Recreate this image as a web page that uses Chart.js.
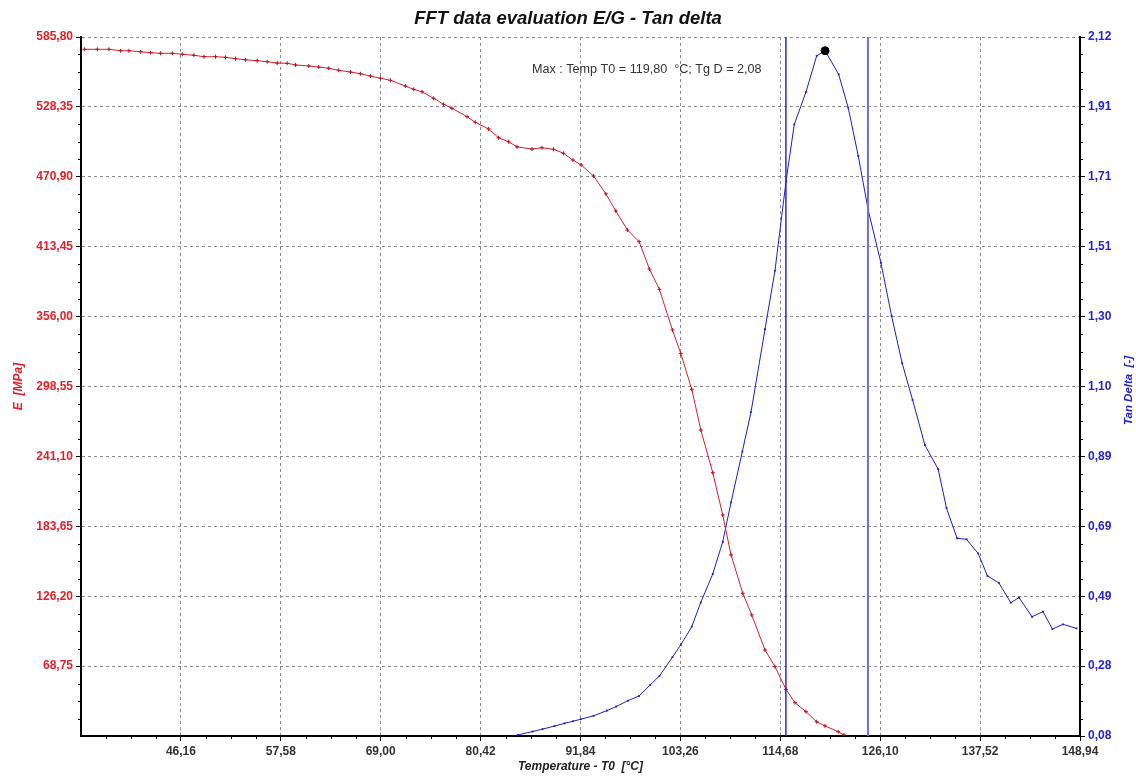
<!DOCTYPE html>
<html>

<head>
    <title>FFT data evaluation E/G - Tan delta</title>
    <script src="https://cdn.jsdelivr.net/npm/chart.js"></script>
    <style>
        body { margin: 0; background: #fff; }
        #wrap { width: 1136px; height: 776px; position: relative; }
    </style>
</head>

<body>
    <div id="wrap"><canvas id="myChart"></canvas></div>

    <script>
        // E modulus curve (left axis)
        const tempE = [35.12, 36.61, 37.94, 39.27, 40.22, 41.56, 42.70, 43.84, 45.18, 46.32,
            47.64, 48.79, 50.12, 51.26, 52.41, 53.55, 54.88, 56.03, 57.17, 58.31,
            59.26, 60.78, 61.92, 63.06, 64.20, 65.54, 66.68, 67.82, 68.97, 70.11,
            71.82, 72.77, 73.73, 75.05, 76.19, 77.15, 78.87, 79.81, 81.33, 82.47,
            83.62, 84.58, 86.29, 87.43, 88.76, 89.90, 90.97, 91.92, 93.33, 94.74,
            95.88, 97.21, 98.54, 99.72, 100.86, 102.35, 103.30, 104.56, 105.59, 106.96,
            108.10, 109.05, 110.39, 111.41, 112.93, 114.07, 115.33, 116.36, 117.61, 118.84,
            119.78, 121.30, 121.95];
        const eModulus = [575.7, 575.7, 575.7, 574.5, 574.5, 573.7, 572.9, 572.4, 572.4, 571.6,
            570.8, 569.6, 569.6, 569.1, 568.0, 567.1, 566.3, 565.5, 564.4, 564.2,
            562.8, 562.0, 561.1, 560.1, 558.4, 557.0, 555.6, 553.7, 551.9, 550.2,
            545.5, 542.8, 540.8, 535.4, 530.5, 527.2, 520.3, 515.7, 510.2, 503.0,
            499.7, 495.5, 493.7, 494.8, 493.5, 490.2, 484.7, 480.6, 471.6, 456.9,
            442.8, 427.1, 417.6, 395.1, 378.4, 345.0, 325.8, 296.2, 262.8, 227.7,
            193.0, 160.1, 128.6, 110.8, 82.0, 68.3, 49.7, 38.7, 31.3, 23.0,
            19.6, 14.8, 12.2];

        // Tan delta curve (right axis)
        const tempTan = [84.65, 86.36, 87.50, 88.87, 90.01, 90.97, 91.88, 93.33, 94.86, 95.92,
            97.25, 98.54, 99.80, 100.86, 102.35, 103.30, 104.56, 105.59, 106.96, 108.10,
            109.05, 110.34, 111.33, 112.93, 114.07, 115.33, 116.28, 117.61, 118.84, 119.80,
            121.35, 122.44, 123.59, 124.73, 126.18, 127.40, 128.61, 129.80, 131.21, 132.72,
            133.68, 134.89, 135.97, 137.29, 138.37, 139.66, 141.03, 141.97, 143.46, 144.71,
            145.79, 147.00, 148.53];
        const tanDelta = [0.083, 0.093, 0.100, 0.109, 0.117, 0.123, 0.129, 0.139, 0.154, 0.166,
            0.183, 0.197, 0.229, 0.255, 0.310, 0.346, 0.399, 0.470, 0.553, 0.647,
            0.762, 0.910, 1.025, 1.267, 1.438, 1.698, 1.865, 1.959, 2.065, 2.08,
            2.011, 1.914, 1.773, 1.615, 1.461, 1.306, 1.168, 1.061, 0.929, 0.859,
            0.745, 0.657, 0.654, 0.613, 0.547, 0.527, 0.469, 0.484, 0.428, 0.443,
            0.392, 0.406, 0.394];

        // maximum marker and the two cursor lines
        const maxPoint = [119.80, 2.08];
        const cursorTemps = [115.32, 124.70];
        const maxText = 'Max : Temp T0 = 119,80  \u00B0C; Tg D = 2,08';

        // axes
        const xRange = [34.74, 148.94];
        const xTicks = [46.16, 57.58, 69.00, 80.42, 91.84, 103.26, 114.68, 126.10, 137.52, 148.94];
        const eRange = [11.30, 585.80];
        const eTicks = [68.75, 126.20, 183.65, 241.10, 298.55, 356.00, 413.45, 470.90, 528.35, 585.80];
        const tanRange = [0.08, 2.12];
        const tanTicks = [0.08, 0.284, 0.488, 0.692, 0.896, 1.10, 1.304, 1.508, 1.712, 1.916, 2.12];
        const tanTickLabels = ['0,08', '0,28', '0,49', '0,69', '0,89', '1,10', '1,30', '1,51', '1,71', '1,91', '2,12'];

        const RED = '#e41e26';
        const BLUE = '#2424d4';
        const GRID = '#8a8a8a';
        const FONT = 'Arial, "Liberation Sans", sans-serif';

        Chart.defaults.font.family = FONT;

        function toPoints(xs, ys) {
            var pts = [];
            for (let i = 0; i < xs.length; i++) {
                pts.push({ x: xs[i], y: ys[i] });
            }
            return pts;
        }

        function comma(v) {
            return Number(v).toFixed(2).replace('.', ',');
        }

        // small ticks between the labelled ones + texts that Chart.js can't place
        const extras = {
            id: 'extras',
            afterDraw: function (chart) {
                const ctx = chart.ctx;
                const area = chart.chartArea;
                const sx = chart.scales.x, sy = chart.scales.y, sy2 = chart.scales.y2;
                ctx.save();
                ctx.strokeStyle = '#000';
                ctx.lineWidth = 1;
                ctx.beginPath();
                var step = (xRange[1] - xRange[0]) / 40;
                for (let i = 1; i < 40; i++) {
                    if (i % 4 === 0) continue;
                    const px = Math.round(sx.getPixelForValue(xRange[0] + i * step)) + 0.5;
                    ctx.moveTo(px, area.bottom);
                    ctx.lineTo(px, area.bottom + 3);
                }
                step = (eRange[1] - eRange[0]) / 40;
                for (let i = 1; i < 40; i++) {
                    if (i % 4 === 0) continue;
                    const py = Math.round(sy.getPixelForValue(eRange[0] + i * step)) + 0.5;
                    ctx.moveTo(area.left - 3, py);
                    ctx.lineTo(area.left, py);
                }
                step = (tanRange[1] - tanRange[0]) / 40;
                for (let i = 1; i < 40; i++) {
                    if (i % 4 === 0) continue;
                    const py = Math.round(sy2.getPixelForValue(tanRange[0] + i * step)) + 0.5;
                    ctx.moveTo(area.right, py);
                    ctx.lineTo(area.right + 3, py);
                }
                ctx.stroke();

                // right axis title reads bottom to top like the left one
                ctx.save();
                ctx.translate(1129, (area.top + area.bottom) / 2 + 4);
                ctx.rotate(-Math.PI / 2);
                ctx.fillStyle = BLUE;
                ctx.font = 'italic bold 11.5px ' + FONT;
                ctx.textAlign = 'center';
                ctx.textBaseline = 'middle';
                ctx.fillText('Tan Delta  [-]', 0, 0);
                ctx.restore();

                // max annotation
                ctx.fillStyle = '#333';
                ctx.font = '12.6px ' + FONT;
                ctx.textAlign = 'left';
                ctx.textBaseline = 'middle';
                ctx.fillText(maxText, area.left + 451, area.top + 33);
                ctx.restore();
            }
        };

        const config = {
            type: 'line',
            data: {
                datasets: [
                    {
                        label: 'Max',
                        data: [{ x: maxPoint[0], y: maxPoint[1] }],
                        yAxisID: 'y2',
                        showLine: false,
                        pointRadius: 4,
                        pointBackgroundColor: '#000',
                        pointBorderColor: '#000',
                        order: 0
                    },
                    {
                        label: 'Cursor 1',
                        data: [{ x: cursorTemps[0], y: tanRange[0] }, { x: cursorTemps[0], y: tanRange[1] }],
                        yAxisID: 'y2',
                        borderColor: '#2a2ad0',
                        borderWidth: 1.5,
                        pointRadius: 0,
                        order: 1
                    },
                    {
                        label: 'Cursor 2',
                        data: [{ x: cursorTemps[1], y: tanRange[0] }, { x: cursorTemps[1], y: tanRange[1] }],
                        yAxisID: 'y2',
                        borderColor: '#6e6ed8',
                        borderWidth: 2,
                        pointRadius: 0,
                        order: 2
                    },
                    {
                        label: 'E',
                        data: toPoints(tempE, eModulus),
                        yAxisID: 'y',
                        borderColor: '#d4202c',
                        borderWidth: 1,
                        pointStyle: 'cross',
                        pointRadius: 2,
                        pointBorderColor: '#b8101c',
                        pointBorderWidth: 1,
                        order: 3
                    },
                    {
                        label: 'Tan Delta',
                        data: toPoints(tempTan, tanDelta),
                        yAxisID: 'y2',
                        borderColor: '#1e1ec8',
                        borderWidth: 1,
                        pointStyle: 'rect',
                        pointRadius: 1.3,
                        pointBackgroundColor: '#1e1ec8',
                        pointBorderColor: '#1e1ec8',
                        pointBorderWidth: 0,
                        order: 4
                    }
                ]
            },
            options: {
                responsive: true,
                maintainAspectRatio: false,
                animation: false,
                layout: { padding: 0 },
                elements: { line: { tension: 0, fill: false } },
                scales: {
                    x: {
                        type: 'linear',
                        position: 'bottom',
                        min: xRange[0],
                        max: xRange[1],
                        afterBuildTicks: function (axis) {
                            axis.ticks = xTicks.map(v => ({ value: v }));
                        },
                        afterFit: function (axis) { axis.height = 40; },
                        ticks: {
                            autoSkip: false,
                            maxRotation: 0,
                            padding: 3,
                            color: '#333',
                            font: { size: 12, weight: 'bold' },
                            callback: function (value) { return comma(value); }
                        },
                        grid: { color: GRID, tickLength: 5, tickColor: '#000', tickBorderDash: [] },
                        border: { color: '#000', width: 2, dash: [3, 3] },
                        title: {
                            display: true,
                            text: 'Temperature - T0  [\u00B0C]',
                            color: '#222',
                            font: { size: 12, weight: 'bold', style: 'italic' },
                            padding: { top: 0, bottom: 2 }
                        }
                    },
                    y: {
                        type: 'linear',
                        position: 'left',
                        min: eRange[0],
                        max: eRange[1],
                        afterBuildTicks: function (axis) {
                            axis.ticks = eTicks.map(v => ({ value: v }));
                        },
                        afterFit: function (axis) { axis.width = 81; },
                        ticks: {
                            padding: 3,
                            color: RED,
                            font: { size: 12, weight: 'bold' },
                            callback: function (value) { return comma(value); }
                        },
                        grid: { color: GRID, tickLength: 5, tickColor: '#000', tickBorderDash: [] },
                        border: { color: '#000', width: 2, dash: [3, 3] },
                        title: {
                            display: true,
                            text: 'E  [MPa]',
                            color: RED,
                            font: { size: 12, weight: 'bold', style: 'italic' },
                            padding: { top: 11, bottom: 0 }
                        }
                    },
                    y2: {
                        type: 'linear',
                        position: 'right',
                        min: tanRange[0],
                        max: tanRange[1],
                        afterBuildTicks: function (axis) {
                            axis.ticks = tanTicks.map(v => ({ value: v }));
                        },
                        afterFit: function (axis) { axis.width = 56; },
                        ticks: {
                            padding: 3,
                            color: BLUE,
                            font: { size: 12, weight: 'bold' },
                            callback: function (value, index) { return tanTickLabels[index]; }
                        },
                        grid: { drawOnChartArea: false, tickLength: 5, tickColor: '#000', tickBorderDash: [] },
                        border: { color: '#000', width: 2 }
                    }
                },
                plugins: {
                    legend: { display: false },
                    tooltip: { enabled: false },
                    title: {
                        display: true,
                        text: 'FFT data evaluation E/G - Tan delta',
                        color: '#111',
                        font: { size: 18.5, weight: 'bold', style: 'italic' },
                        padding: { top: 8, bottom: 6.8 }
                    }
                }
            },
            plugins: [extras]
        };

        var myChart = new Chart(document.getElementById('myChart'), config);
    </script>

</body>

</html>
